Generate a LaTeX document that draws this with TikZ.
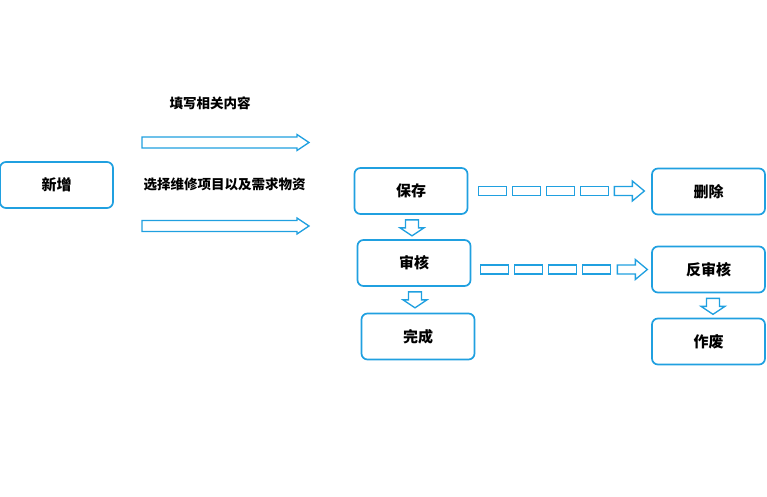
\documentclass[tikz,border=0pt]{standalone}
\usepackage{fontspec}
\setmainfont{Noto Sans CJK SC}
\usepackage{tikz}
\usetikzlibrary{positioning}
\definecolor{flowblue}{RGB}{32,160,224}

\begin{document}
\begin{tikzpicture}[x=1pt,y=-1pt,
    box/.style={draw=flowblue, line width=1.7pt, rounded corners=6pt,
      minimum width=113pt, minimum height=46pt,
      font=\bfseries\fontsize{15}{15}\selectfont},
    label/.style={font=\bfseries\fontsize{13.5}{13.5}\selectfont},
    blockarrow/.style={draw=flowblue, line width=1.3pt, fill=white}]
    \useasboundingbox (0,0) rectangle (767,497);
    % boxes
    \node[box] (new)      at (56.5,185)  {新增};
    \node[box] (save)     at (411,191)   {保存};
    \node[box] (audit)    at (414,263)   {审核};
    \node[box] (done)     at (418,336.5) {完成};
    \node[box] (delete)   at (708.5,191.5) {删除};
    \node[box] (revaudit) at (708.5,269.5) {反审核};
    \node[box] (void)     at (708.5,341.5) {作废};
    % labels
    \node[label] (fill)   at (210,103) {填写相关内容};
    \node[label] (choose) at (224.5,184) {选择维修项目以及需求物资};
    % arrows from new
    \foreach \y in {142.5,226} {
      \draw[blockarrow] (142,\y-5.5) -- ++(155,0) -- ++(0,-2.5) -- ++(12,8)
        -- ++(-12,8) -- ++(0,-2.5) -- ++(-155,0) -- cycle;
    }
    % dashed arrows
    \coordinate (d1) at (save.east);
    \coordinate (d2) at (audit.east |- revaudit.west);
    \foreach \c/\s in {d1/10,d2/9} {
      \foreach \i in {0,...,3}
        \draw[blockarrow] ([xshift=\s pt+\i*34pt, yshift=4.5pt]\c) rectangle ++(28,9);
      \draw[blockarrow] ([xshift=146pt, yshift=4.5pt]\c) -- ++(18,0) -- ++(0,-5.5)
        -- ++(12,10) -- ++(-12,10) -- ++(0,-5.5) -- ++(-18,0) -- cycle;
    }
    % down arrows
    \foreach \a/\dx in {save/1,audit/1,revaudit/4.5} {
      \draw[blockarrow] ([xshift=\dx pt, yshift=-5pt]\a.south) ++(-6.5,0) -- ++(13,0)
        -- ++(0,8) -- ++(5.5,0) -- ++(-12,8) -- ++(-12,-8) -- ++(5.5,0) -- cycle;
    }
\end{tikzpicture}
\end{document}
